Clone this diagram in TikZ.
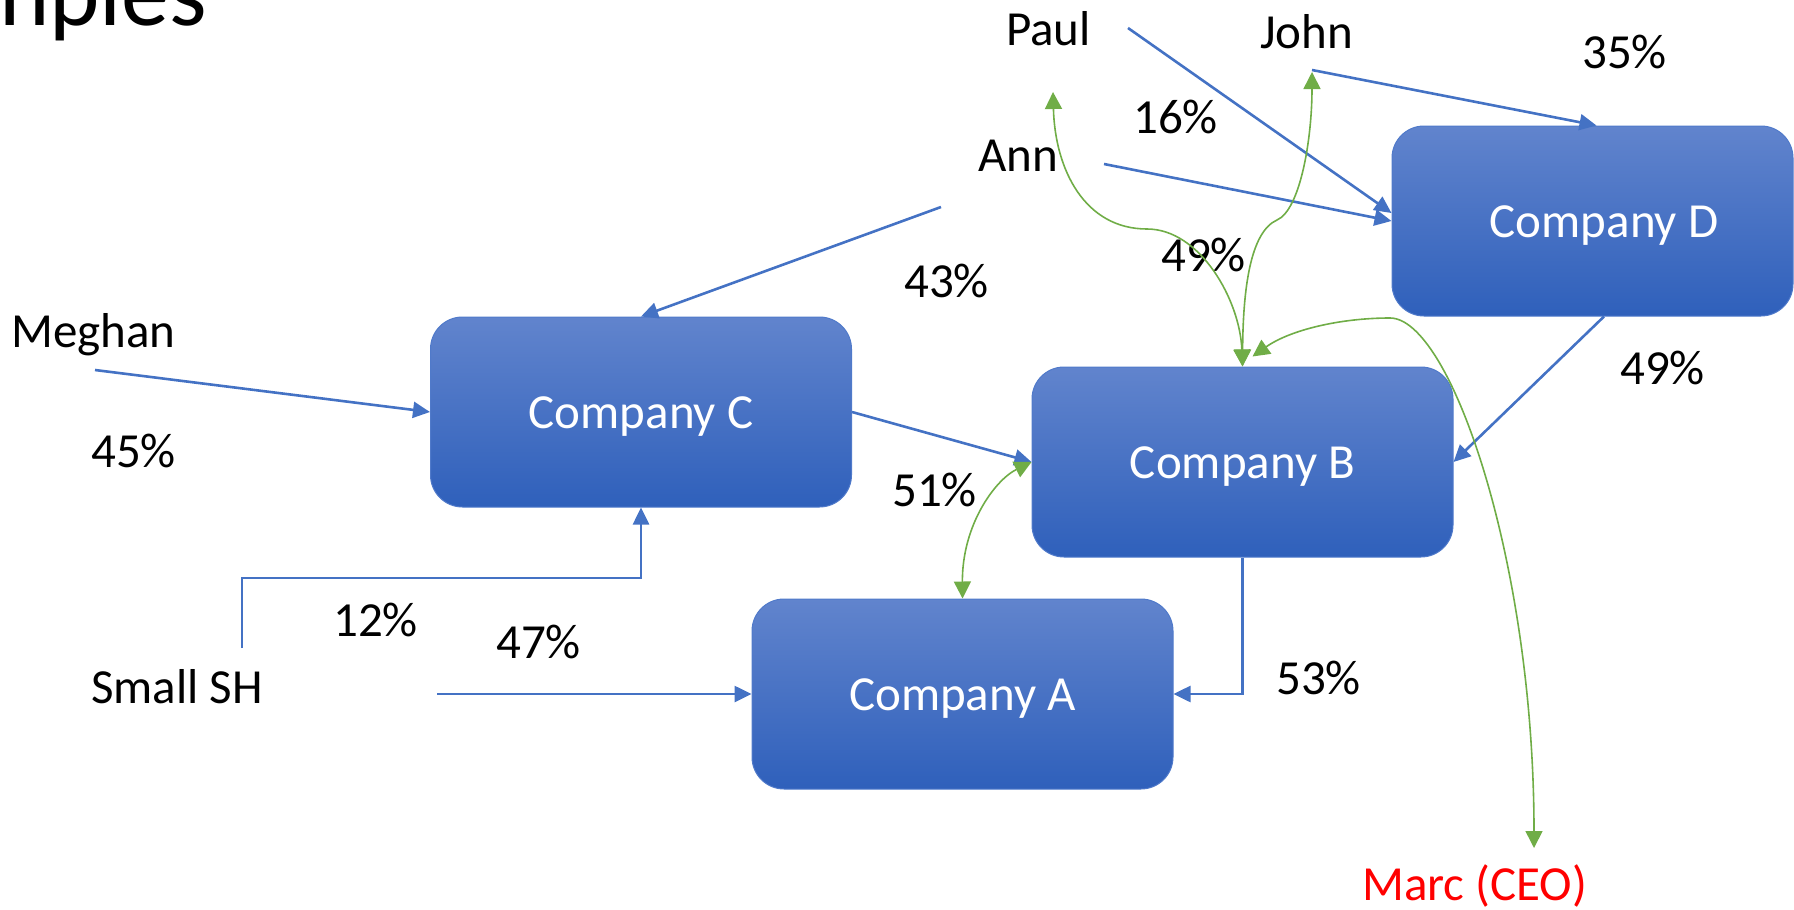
\documentclass[tikz,border=0pt]{standalone}
\usepackage{fontspec}
\setmainfont{Carlito}
\usetikzlibrary{arrows.meta}
\definecolor{lineblue}{RGB}{68,114,196}
\definecolor{linegreen}{RGB}{112,173,71}
\definecolor{boxtop}{RGB}{97,132,205}
\definecolor{boxbot}{RGB}{47,96,187}
\definecolor{boxedge}{RGB}{80,122,202}
\definecolor{ceored}{RGB}{255,0,0}
\begin{document}
\begin{tikzpicture}[x=1pt,y=-1pt,
  company/.style={draw=boxedge, line width=1pt, rounded corners=32pt, top color=boxtop, bottom color=boxbot,
    minimum width=421pt, minimum height=190pt, inner sep=0pt, text=white, text height=32pt, text depth=0pt,
    font=\fontsize{49}{58}\selectfont},
  lbl/.style={anchor=base west, inner sep=0pt, font=\fontsize{49}{58}\selectfont},
  own/.style={draw=lineblue, line width=2.6pt, -{Triangle[length=17pt,width=16pt]}},
  ctrl/.style={draw=linegreen, line width=1.6pt, {Triangle[length=17pt,width=17pt]}-{Triangle[length=17pt,width=17pt]}}]
\useasboundingbox (0,0) rectangle (1794,910);

% title fragment
\node[lbl, font=\fontsize{96}{110}\selectfont] (title) at (-1,25) {nples};

% companies
\node[company] (C) at (641,412) {Company C};
\node[company] (B) at (1242.5,462) {Company B};
\node[company] (A) at (962.5,694) {Company A};
\node[company, minimum width=401pt,
  label={[text=white, font=\fontsize{49}{58}\selectfont, text height=32pt, text depth=0pt, xshift=11.5pt]center:Company D}] (D) at (1592.5,221) {};

% labels
\node[lbl] (paul) at (1006,45) {Paul};
\node[lbl] (john) at (1260,48) {John};
\node[lbl] (p35) at (1582,68) {35\%};
\node[lbl] (p16) at (1133,133) {16\%};
\node[lbl] (ann) at (978,171) {Ann};
\node[lbl] (p49a) at (1161,271) {49\%};
\node[lbl] (p43) at (904,297) {43\%};
\node[lbl] (meghan) at (11,347) {Meghan};
\node[lbl] (p45) at (91,467) {45\%};
\node[lbl] (p51) at (892,506) {51\%};
\node[lbl] (p49b) at (1620,384) {49\%};
\node[lbl] (p12) at (333,636) {12\%};
\node[lbl] (p47) at (496,658) {47\%};
\node[lbl] (smallsh) at (91,703) {Small SH};
\node[lbl] (p53) at (1276,694) {53\%};
\node[lbl, text=ceored] (marc) at (1362,900) {Marc (CEO)};

% free ends
\coordinate (m0) at (95,370);
\coordinate (a0) at (941,207);
\coordinate (a1) at (1104,164);
\coordinate (p0) at (1128,28);
\coordinate (j0) at (1312,70);
\coordinate (s0) at (242,648);
\coordinate (s1) at (437,694);
\coordinate (pg) at (1053,92);
\coordinate (jg) at (1312,72);
\coordinate (mg) at (1534,848);

% ownership (blue)
\draw[own] (m0) -- (C.west);
\draw[own] (a0) -- (C.north);
\draw[own] (s0) -- ++(0,-70) -| (C.south);
\draw[own] (s1) -- (A.west);
\draw[own] (C.east) -- (B.west);
\draw[own] (B.south) |- (A.east);
\draw[own] ([xshift=11.5pt]D.south) -- (B.east);
\draw[own] (j0) -- ([xshift=4pt]D.north);
\draw[own] (p0) -- ([yshift=8pt]D.west);
\draw[own] (a1) -- (D.west);

% control (green)
\draw[ctrl] (A.north) .. controls (962,525) and (995,480) .. (B.west);
\draw[ctrl] (pg) .. controls (1055,170) and (1085,229) .. (1147,229)
  .. controls (1200,229) and (1240,300) .. (B.north);
\draw[ctrl] (B.north) .. controls (1243,290) and (1250,232) .. (1277,220)
  .. controls (1300,210) and (1312,140) .. (jg);
\draw[ctrl] ([xshift=10pt,yshift=10pt]B.north) .. controls (1290,330) and (1340,318) .. (1390,318)
  .. controls (1450,318) and (1534,560) .. (mg);
\end{tikzpicture}
\end{document}
